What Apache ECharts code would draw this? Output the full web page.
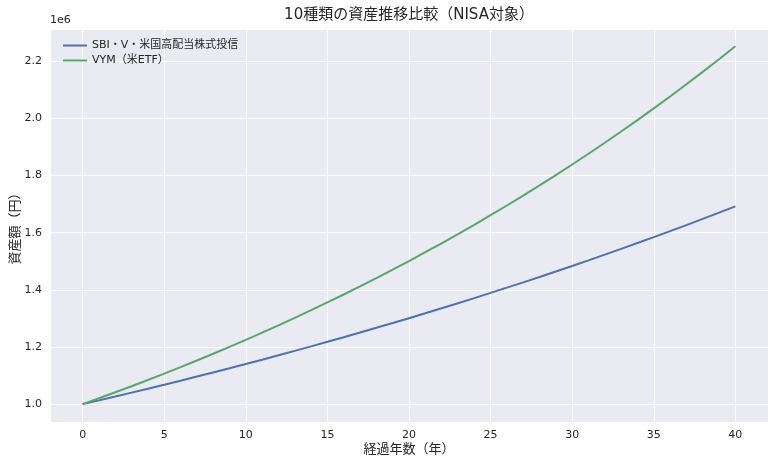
<!DOCTYPE html>
<html><head><meta charset="utf-8">
<script src="https://cdn.jsdelivr.net/npm/echarts@6/dist/echarts.min.js"></script>
<style>html,body{margin:0;padding:0;background:#fff}#c{width:780px;height:468px}</style>
</head><body><div id="c"></div>
<script>
const titleText = "10種類の資産推移比較（NISA対象）";
const xName = "経過年数（年）";
const yName = "資産額（円）";
const seriesNames = ["SBI・V・米国高配当株式投信", "VYM（米ETF）"];
const years = [0,1,2,3,4,5,6,7,8,9,10,11,12,13,14,15,16,17,18,19,20,21,22,23,24,25,26,27,28,29,30,31,32,33,34,35,36,37,38,39,40];
const sbiValues = [1000000,1013234,1026643,1040229,1053995,1067944,1082077,1096397,1110906,1125608,1140504,1155597,1170890,1186385,1202085,1217993,1234112,1250444,1266992,1283759,1300748,1317962,1335404,1353076,1370982,1389125,1407509,1426136,1445009,1464132,1483508,1503141,1523033,1543189,1563611,1584304,1605270,1626514,1648039,1669849,1691948];
const vymValues = [1000000,1020503,1041426,1062778,1084568,1106805,1129498,1152656,1176289,1200406,1225018,1250134,1275765,1301922,1328615,1355855,1383654,1412023,1440974,1470518,1500668,1531436,1562835,1594878,1627578,1660948,1695002,1729754,1765219,1801411,1838345,1876037,1914501,1953754,1993812,2034691,2076408,2118981,2162427,2206763,2252008];
const colors = ["#4C72B0", "#55A868"];
const FONT = "DejaVu Sans, 'Noto Sans CJK JP', sans-serif";

const chart = echarts.init(document.getElementById('c'), null, {renderer: 'canvas'});
const mk = vals => years.map((y, i) => [y, vals[i]]);
chart.setOption({
  animation: false,
  textStyle: {fontFamily: FONT},
  grid: {left: 50, right: 12, top: 29, bottom: 46, show: true, backgroundColor: '#EAEAF2', borderWidth: 0,
         containLabel: false, outerBoundsMode: 'none'},
  graphic: [
    {type: 'text', x: 409, y: 8, style: {text: titleText, fontSize: 15, fill: '#262626', fontFamily: FONT, align: 'center', textAlign: 'center'}},
    {type: 'text', x: 50, y: 15, style: {text: '1e6', fontSize: 11, fill: '#262626', fontFamily: FONT}}
  ],
  legend: {
    left: 58, top: 35, orient: 'vertical', itemGap: 4,
    itemWidth: 24, itemHeight: 2, icon: 'rect',
    textStyle: {fontSize: 11, color: '#262626', fontFamily: FONT},
    data: seriesNames
  },
  xAxis: {
    type: 'value', min: -2, max: 42, splitNumber: 9,
    name: xName, nameLocation: 'middle', nameGap: 21, nameMoveOverlap: false,
    nameTextStyle: {fontSize: 13, color: '#262626', fontFamily: FONT},
    axisLine: {show: false}, axisTick: {show: false},
    axisLabel: {fontSize: 11, color: '#262626', margin: 8, showMinLabel: false, showMaxLabel: false},
    splitLine: {show: true, lineStyle: {color: '#ffffff', width: 1}}
  },
  yAxis: {
    type: 'value', min: 937500, max: 2312500, splitNumber: 7,
    name: yName, nameLocation: 'middle', nameGap: 28, nameRotate: 90, nameMoveOverlap: false,
    nameTextStyle: {fontSize: 13, color: '#262626', fontFamily: FONT},
    axisLine: {show: false}, axisTick: {show: false},
    axisLabel: {fontSize: 11, color: '#262626', margin: 8, showMinLabel: false, showMaxLabel: false,
      formatter: v => (v / 1e6).toFixed(1)},
    splitLine: {show: true, lineStyle: {color: '#ffffff', width: 1}}
  },
  series: [
    {name: seriesNames[0], type: 'line', data: mk(sbiValues), showSymbol: false, symbol: 'none',
     lineStyle: {color: colors[0], width: 2}, itemStyle: {color: colors[0]}},
    {name: seriesNames[1], type: 'line', data: mk(vymValues), showSymbol: false, symbol: 'none',
     lineStyle: {color: colors[1], width: 2}, itemStyle: {color: colors[1]}}
  ]
});
</script></body></html>
